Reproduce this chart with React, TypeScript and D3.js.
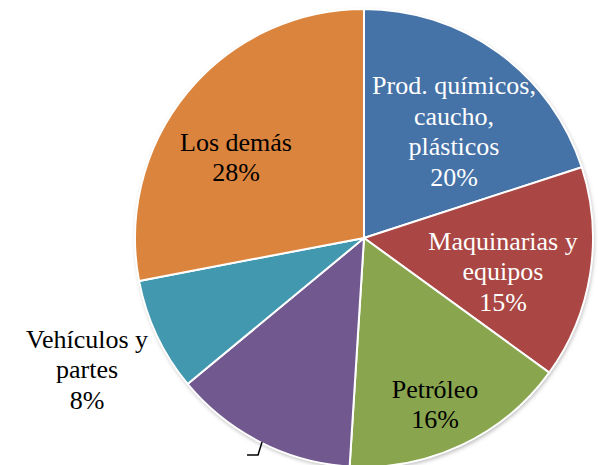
import { useEffect, useRef } from 'react';
import * as d3 from 'd3';

type Slice = {
  label: string[];
  value: number;
};

const categories = [
  ['Prod. químicos,', 'caucho,', 'plásticos'],
  ['Maquinarias y', 'equipos'],
  ['Petróleo'],
  [],
  ['Vehículos y', 'partes'],
  ['Los demás'],
];
const values = [20, 15, 16, 13, 8, 28];
const colors = ['#4572A7', '#AA4643', '#89A54E', '#71588F', '#4198AF', '#DB843D'];
const textColors = ['#ffffff', '#ffffff', '#000000', '#000000', '#000000', '#000000'];

const width = 598;
const height = 465;

export default function App() {
  const svgRef = useRef<SVGSVGElement>(null);

  useEffect(() => {
    if (!svgRef.current) return;
    const svg = d3.select(svgRef.current);
    svg.selectAll('*').remove();

    const data: Slice[] = values.map((v, i) => ({ label: categories[i], value: v }));
    const cx = 364;
    const cy = 238;
    const radius = 229;

    // soft shadow
    const defs = svg.append('defs');
    const f = defs.append('filter').attr('id', 'shadow')
      .attr('x', '-10%').attr('y', '-10%').attr('width', '120%').attr('height', '120%');
    f.append('feDropShadow')
      .attr('dx', 1).attr('dy', 2).attr('stdDeviation', 2)
      .attr('flood-color', '#000').attr('flood-opacity', 0.3);

    const g = svg.append('g').attr('transform', `translate(${cx},${cy})`);

    const pie = d3.pie<Slice>().value(d => d.value).sort(null);
    const arc = d3.arc<d3.PieArcDatum<Slice>>().innerRadius(0).outerRadius(radius);
    const arcs = pie(data);

    g.append('circle').attr('r', radius).attr('fill', '#fff').attr('filter', 'url(#shadow)');

    g.selectAll('.slice')
      .data(arcs)
      .enter().append('path')
      .attr('class', 'slice')
      .attr('d', arc)
      .attr('fill', (d, i) => colors[i])
      .attr('stroke', '#fff')
      .attr('stroke-width', 2)
      .attr('stroke-linejoin', 'round');

    // label block centres (relative to pie centre)
    const labelPos: [number, number][] = [
      [90, -106],
      [139, 34],
      [71, 167],
      [0, 0],
      [-277, 132],
      [-128, -80],
    ];
    const lineH = 30.5;
    const fmt = (v: number) => `${v}%`;

    arcs.forEach((d, i) => {
      if (!d.data.label.length) return;
      const lines = [...d.data.label, fmt(d.data.value)];
      const [lx, ly] = labelPos[i];
      const t = g.append('text')
        .attr('text-anchor', 'middle')
        .style('font-family', "'Times New Roman', 'Liberation Serif', serif")
        .style('font-size', '26px')
        .attr('fill', textColors[i]);
      lines.forEach((line, j) => {
        t.append('tspan')
          .attr('x', lx)
          .attr('y', ly + (j - (lines.length - 1) / 2) * lineH + 8)
          .text(line);
      });
    });

    // leader line of the label that falls below the frame
    const purple = arcs[3];
    const mid = (purple.startAngle + purple.endAngle) / 2;
    const px = Math.sin(mid) * radius;
    const py = -Math.cos(mid) * radius;
    g.append('path')
      .attr('d', `M${px + 2},${py} L${px - 2},${py + 13} L${px - 13},${py + 13}`)
      .attr('fill', 'none')
      .attr('stroke', '#000')
      .attr('stroke-width', 1.5);
  }, []);

  return (
    <svg
      ref={svgRef}
      width={width}
      height={height}
      style={{ position: 'absolute', left: 0, top: 0, background: '#fff' }}
    />
  );
}
